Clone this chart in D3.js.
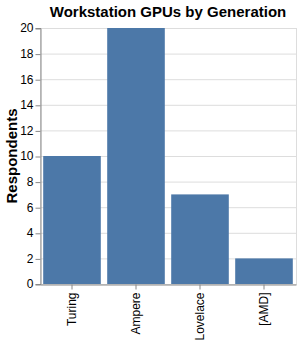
<html>
<head>
<meta charset="utf-8">
<script src="https://d3js.org/d3.v7.min.js"></script>
<style>
  body { margin: 0; background: white; }
  text { font-family: "Liberation Sans", Arial, sans-serif; }
</style>
</head>
<body>
<svg id="chart" width="299" height="343"></svg>
<script>
// data
let generations = ["Turing", "Ampere", "Lovelace", "[AMD]"];
let respondents = [10, 20, 7, 2];
let yTicks = [0, 2, 4, 6, 8, 10, 12, 14, 16, 18, 20];

let svg = d3.select("#chart");
let margin = {top: 28, left: 40};
let w = 256, h = 256;

let x = d3.scaleBand()
  .domain(generations)
  .range([0, w])
  .paddingInner(0.1)
  .paddingOuter(0.05);

let y = d3.scaleLinear()
  .domain([0, 20])
  .range([h, 0]);

let g = svg.append("g")
  .attr("transform", `translate(${margin.left},${margin.top})`);

// grid lines
g.selectAll("line.grid")
  .data(yTicks)
  .join("line")
  .attr("class", "grid")
  .attr("x1", 0).attr("x2", w)
  .attr("y1", d => y(d) + 0.5).attr("y2", d => y(d) + 0.5)
  .attr("stroke", "#ddd");

// view border
g.append("rect")
  .attr("x", 0.5).attr("y", 0.5)
  .attr("width", w).attr("height", h)
  .attr("fill", "none")
  .attr("stroke", "#ddd");

// bars
g.selectAll("rect.bar")
  .data(generations)
  .join("rect")
  .attr("class", "bar")
  .attr("x", d => x(d))
  .attr("width", x.bandwidth())
  .attr("y", (d, i) => y(respondents[i]))
  .attr("height", (d, i) => h - y(respondents[i]))
  .attr("fill", "#4c78a8");

// y axis
let yAxis = g.append("g")
  .attr("transform", "translate(0.5,0)")
  .call(d3.axisLeft(y).tickValues(yTicks).tickSize(5).tickPadding(2));
yAxis.select(".domain").attr("stroke", "#888");
yAxis.selectAll(".tick line").attr("stroke", "#888").attr("transform", "translate(0,0.5)");
yAxis.selectAll(".tick text")
  .attr("font-size", 12)
  .attr("fill", "#000")
  .attr("font-family", "Liberation Sans, Arial, sans-serif");

// x axis
let xAxis = g.append("g")
  .attr("transform", `translate(0,${h + 0.5})`)
  .call(d3.axisBottom(x).tickSize(5).tickSizeOuter(0));
xAxis.select(".domain").attr("stroke", "#888");
xAxis.selectAll(".tick line").attr("stroke", "#888");
xAxis.selectAll(".tick text")
  .attr("font-size", 12)
  .attr("fill", "#000")
  .attr("font-family", "Liberation Sans, Arial, sans-serif")
  .attr("text-anchor", "end")
  .attr("dy", "0.35em")
  .attr("transform", "translate(0,8) rotate(-90)")
  .attr("y", 0)
  .attr("x", 0);

// axis title
svg.append("text")
  .attr("transform", `translate(17,${margin.top + h / 2}) rotate(-90)`)
  .attr("text-anchor", "middle")
  .attr("font-size", 15)
  .attr("font-weight", "bold")
  .text("Respondents");

// chart title
svg.append("text")
  .attr("x", margin.left + w / 2)
  .attr("y", 17)
  .attr("text-anchor", "middle")
  .attr("font-size", 15)
  .attr("font-weight", "bold")
  .text("Workstation GPUs by Generation");
</script>
</body>
</html>
